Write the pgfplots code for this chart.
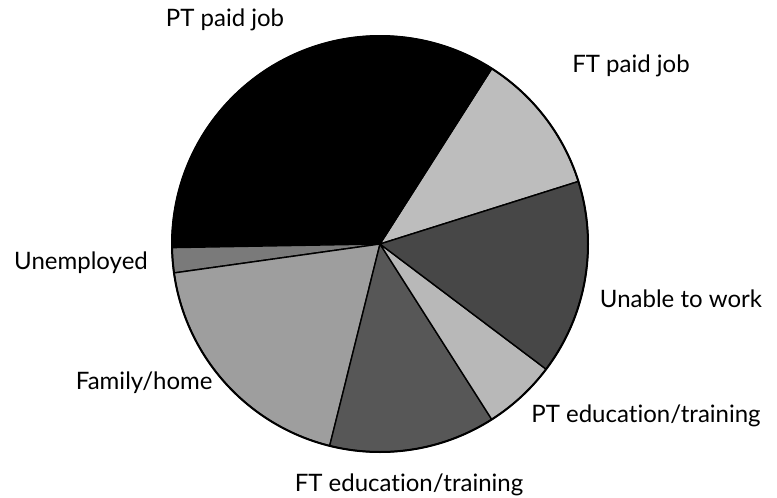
\documentclass[border=0pt]{standalone}
\usepackage{fontspec}
\setmainfont{Lato}[Ligatures=NoCommon]
\usepackage{pgfplots}
\pgfplotsset{compat=1.18}
\definecolor{sFTpaid}{gray}{0.74}
\definecolor{sPTpaid}{gray}{0.0}
\definecolor{sUnemp}{gray}{0.48}
\definecolor{sFamily}{gray}{0.62}
\definecolor{sFTedu}{gray}{0.34}
\definecolor{sPTedu}{gray}{0.72}
\definecolor{sUnable}{gray}{0.28}
\tikzset{lbl/.style={font=\fontsize{12}{14}\selectfont,inner sep=0pt}}
% one slice: start angle, end angle (deg, counterclockwise), fill
\newcommand{\slice}[3]{%
 \addplot[fill=#3,draw=black,line width=0.7pt,line join=round,
   domain=#1:#2,samples=80,variable=\t]
   ({380+208*cos(t)},{244-208*sin(t)}) -- (axis cs:380,244) -- cycle;}
\begin{document}
\begin{tikzpicture}
\begin{axis}[
 hide axis,scale only axis,width=388.5pt,height=249pt,
 xmin=0,xmax=777,ymin=0,ymax=498,y dir=reverse,clip=false
]
\path (rel axis cs:0,0) rectangle (rel axis cs:1,1);
% shares (%): FT paid 11.1, PT paid 34.3, Unemployed 1.9, Family 18.9,
% FT edu 12.9, PT edu 5.7, Unable 15.1 -> angle = 3.6 * share
\slice{17.5}{57.5}{sFTpaid}
\slice{57.5}{181}{sPTpaid}
\slice{181}{188}{sUnemp}
\slice{188}{256}{sFamily}
\slice{256}{302.5}{sFTedu}
\slice{302.5}{323}{sPTedu}
\slice{323}{377.5}{sUnable}
\draw[line width=1pt] (axis cs:380,244) ellipse[x radius=208,y radius=208];
\node[lbl] at (axis cs:225,20) {PT paid job};
\node[lbl] at (axis cs:631,66) {FT paid job};
\node[lbl] at (axis cs:81,263) {Unemployed};
\node[lbl] at (axis cs:681,299) {Unable to work};
\node[lbl,anchor=east] at (axis cs:213,383) {Family/home};
\node[lbl] at (axis cs:646,416) {PT education/training};
\node[lbl] at (axis cs:409,485) {FT education/training};
\end{axis}
\end{tikzpicture}
\end{document}
